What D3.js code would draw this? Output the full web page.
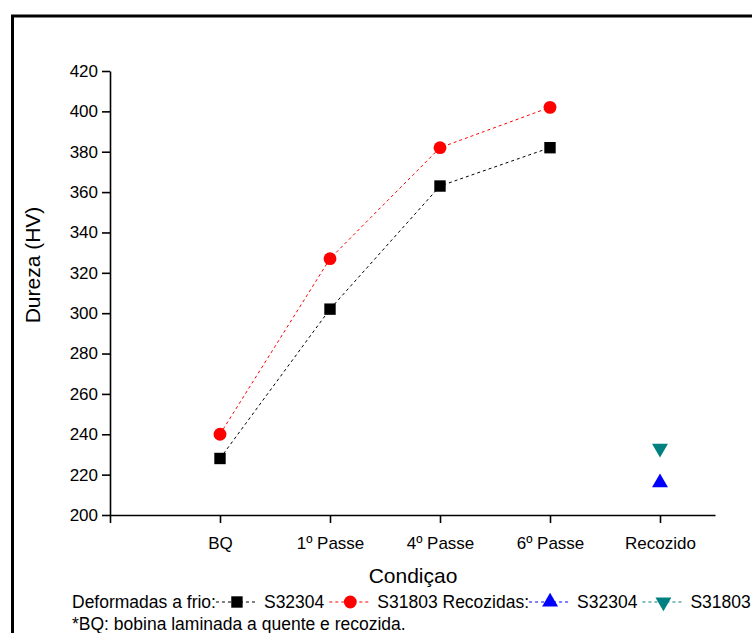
<!DOCTYPE html>
<html>
<head>
<meta charset="utf-8">
<script src="https://cdn.jsdelivr.net/npm/d3@7"></script>
<style>
  body { margin: 0; background: #fff; }
  text { font-family: "Liberation Sans", Arial, sans-serif; fill: #000; }
</style>
</head>
<body>
<div id="chart"></div>
<script>
// data
var categories = ["BQ", "1º Passe", "4º Passe", "6º Passe", "Recozido"];
var yTickValues = [200, 220, 240, 260, 280, 300, 320, 340, 360, 380, 400, 420];
var coldS32304 = [228, 302, 363, 382];   // Deformadas a frio, S32304
var coldS31803 = [240, 327, 382, 402];   // Deformadas a frio, S31803
var annealedS32304 = [216];              // Recozidas, S32304
var annealedS31803 = [233];              // Recozidas, S31803

var width = 752, height = 633;

var svg = d3.select("#chart")
    .append("svg")
    .attr("width", width)
    .attr("height", height);

// outer frame (right and bottom edges fall outside the picture)
svg.append("rect")
    .attr("x", 12.5)
    .attr("y", 16)
    .attr("width", 800)
    .attr("height", 700)
    .style("fill", "none")
    .style("stroke", "#000")
    .style("stroke-width", 3);

// scales: categories sit at 1..5, axis starts at 0
var x = d3.scaleLinear()
    .domain([0, 5.5])
    .range([110, 715]);

var y = d3.scaleLinear()
    .domain([200, 420])
    .range([515, 71]);

// X axis
var xAxis = svg.append("g")
    .attr("transform", "translate(0," + y(200) + ")")
    .call(d3.axisBottom(x)
        .tickValues([0, 1, 2, 3, 4, 5])
        .tickSize(8)
        .tickSizeOuter(0)
        .tickPadding(14)
        .tickFormat(function (d) { return d === 0 ? "" : categories[d - 1]; }));
xAxis.selectAll("text").style("font-size", "17px");

// Y axis
var yAxis = svg.append("g")
    .attr("transform", "translate(" + x(0) + ",0)")
    .call(d3.axisLeft(y)
        .tickValues(yTickValues)
        .tickSize(8)
        .tickSizeOuter(0)
        .tickPadding(4));
yAxis.selectAll("text").style("font-size", "17px");

svg.selectAll(".domain, .tick line")
    .style("stroke", "#000")
    .style("stroke-width", 1.6);

// axis titles
svg.append("text")
    .attr("x", 413)
    .attr("y", 583)
    .attr("text-anchor", "middle")
    .style("font-size", "21px")
    .text("Condiçao");

svg.append("text")
    .attr("transform", "translate(40," + 265 + ") rotate(-90)")
    .attr("text-anchor", "middle")
    .style("font-size", "21px")
    .text("Dureza (HV)");

// series description
var series = [
    { name: "S32304", values: coldS32304, start: 1, color: "#000", shape: d3.symbolSquare, size: 130, line: true },
    { name: "S31803", values: coldS31803, start: 1, color: "#ff0000", shape: d3.symbolCircle, size: 130, line: true },
    { name: "S32304", values: annealedS32304, start: 5, color: "#0000ff", shape: d3.symbolTriangle, size: 110, line: false },
    { name: "S31803", values: annealedS31803, start: 5, color: "#008080", shape: "down", size: 110, line: false }
];

function symbolPath(s) {
    if (s.shape === "down") {
        return d3.symbol().type(d3.symbolTriangle).size(s.size)();
    }
    return d3.symbol().type(s.shape).size(s.size)();
}

function symbolTransform(s, px, py) {
    return "translate(" + px + "," + py + ")" + (s.shape === "down" ? " rotate(180)" : "");
}

var line = d3.line()
    .x(function (d) { return x(d.i); })
    .y(function (d) { return y(d.v); });

series.forEach(function (s) {
    var pts = s.values.map(function (v, k) { return { i: s.start + k, v: v }; });

    if (s.line) {
        svg.append("path")
            .datum(pts)
            .attr("d", line)
            .style("fill", "none")
            .style("stroke", s.color)
            .style("stroke-width", 1)
            .style("stroke-dasharray", "3,3");
    }

    svg.append("g")
        .selectAll("path")
        .data(pts)
        .enter()
        .append("path")
        .attr("d", symbolPath(s))
        .attr("transform", function (d) { return symbolTransform(s, x(d.i), y(d.v)); })
        .style("fill", s.color);
});

// legend, laid out as one flowing line
var legendY = 608;
var cursor = 72;

function legendText(str) {
    var t = svg.append("text")
        .attr("x", cursor)
        .attr("y", legendY)
        .style("font-size", "17.5px")
        .text(str);
    cursor += t.node().getComputedTextLength();
}

function legendSymbol(s) {
    svg.append("line")
        .attr("x1", cursor).attr("x2", cursor + 40)
        .attr("y1", legendY - 6).attr("y2", legendY - 6)
        .style("stroke", s.color)
        .style("stroke-width", 1)
        .style("stroke-dasharray", "3,3");
    svg.append("path")
        .attr("d", symbolPath(s))
        .attr("transform", symbolTransform(s, cursor + 21, legendY - 6))
        .style("fill", s.color);
    cursor += 48;
}

legendText("Deformadas a frio:");
legendSymbol(series[0]);
legendText("S32304");
cursor += 5;
legendSymbol(series[1]);
legendText("S31803 Recozidas:");
legendSymbol(series[2]);
legendText("S32304");
cursor += 5;
legendSymbol(series[3]);
legendText("S31803");

svg.append("text")
    .attr("x", 72)
    .attr("y", 630)
    .style("font-size", "17.5px")
    .text("*BQ: bobina laminada a quente e recozida.");
</script>
</body>
</html>
